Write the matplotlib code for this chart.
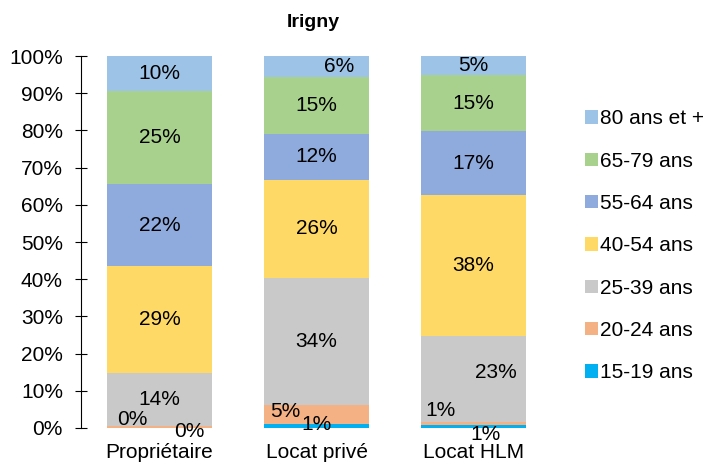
import numpy as np
from matplotlib import pyplot as plt

# bar categories and age groups (bottom to top)
categories = ["Propriétaire", "Locat privé", "Locat HLM"]
age_groups = ["15-19 ans", "20-24 ans", "25-39 ans", "40-54 ans",
              "55-64 ans", "65-79 ans", "80 ans et +"]

# share of each age group, in %, one list per category
proprietaire = [0.1, 0.4, 14.3, 28.8, 21.9, 25.0, 9.5]
locat_prive = [1.2, 4.9, 34.3, 26.4, 12.3, 15.2, 5.7]
locat_hlm = [0.8, 0.7, 23.3, 37.8, 17.2, 15.1, 5.1]

colors = ["#00B0F0", "#F4B183", "#C9C9C9", "#FFD966",
          "#8FAADC", "#A9D18E", "#9DC3E6"]

# label nudges (pixels) for the few labels Excel moved off centre
nudges = {
    (0, 0): (30, -4), (0, 1): (-27, 7),
    (1, 0): (0, 1), (1, 1): (-31, 3), (1, 6): (23, 0),
    (2, 0): (12, -8), (2, 1): (-33, 13), (2, 2): (22, 7),
}

plt.rcParams["font.family"] = ["Liberation Sans", "DejaVu Sans"]

data = np.array([proprietaire, locat_prive, locat_hlm]) / 100.0
x = np.arange(len(categories))

fig = plt.figure(figsize=(7.06, 4.63), dpi=100)
ax = fig.add_axes([81 / 706, 0.0756, 471 / 706, 0.8034])

bottom = np.zeros(len(categories))
for j, group in enumerate(age_groups):
    vals = data[:, j]
    ax.bar(x, vals, 0.67, bottom=bottom, color=colors[j], label=group)
    for i in range(len(categories)):
        dx, dy = nudges.get((i, j), (0, 0))
        ax.annotate("{:.0f}%".format(vals[i] * 100),
                    (x[i], bottom[i] + vals[i] / 2),
                    xytext=(dx, dy), textcoords="offset pixels",
                    ha="center", va="center", fontsize=15)
    bottom += vals

ax.set_xlim(-0.5, len(categories) - 0.5)
ax.set_ylim(0, 1)
ticks = np.linspace(0, 1, 11)
ax.set_yticks(ticks)
ax.set_yticklabels(["{:.0f}%".format(v * 100) for v in ticks])
ax.set_xticks(x)
ax.set_xticklabels(categories)
ax.tick_params(axis="y", direction="inout", length=9, labelsize=15, pad=8.5)
ax.tick_params(axis="x", length=0, labelsize=15, pad=10.5)
for side in ["top", "right", "bottom"]:
    ax.spines[side].set_visible(False)

ax.set_title("Irigny", fontsize=14, fontweight="bold", pad=21, x=0.494)

handles, labels = ax.get_legend_handles_labels()
fig.legend(handles[::-1], labels[::-1], loc="center left",
           bbox_to_anchor=(585 / 706, 0.469), frameon=False,
           fontsize=15, handlelength=0.6, handleheight=0.6,
           handletextpad=0.1, labelspacing=1.12, borderpad=0,
           borderaxespad=0)

fig.savefig("out.png", dpi=100)
